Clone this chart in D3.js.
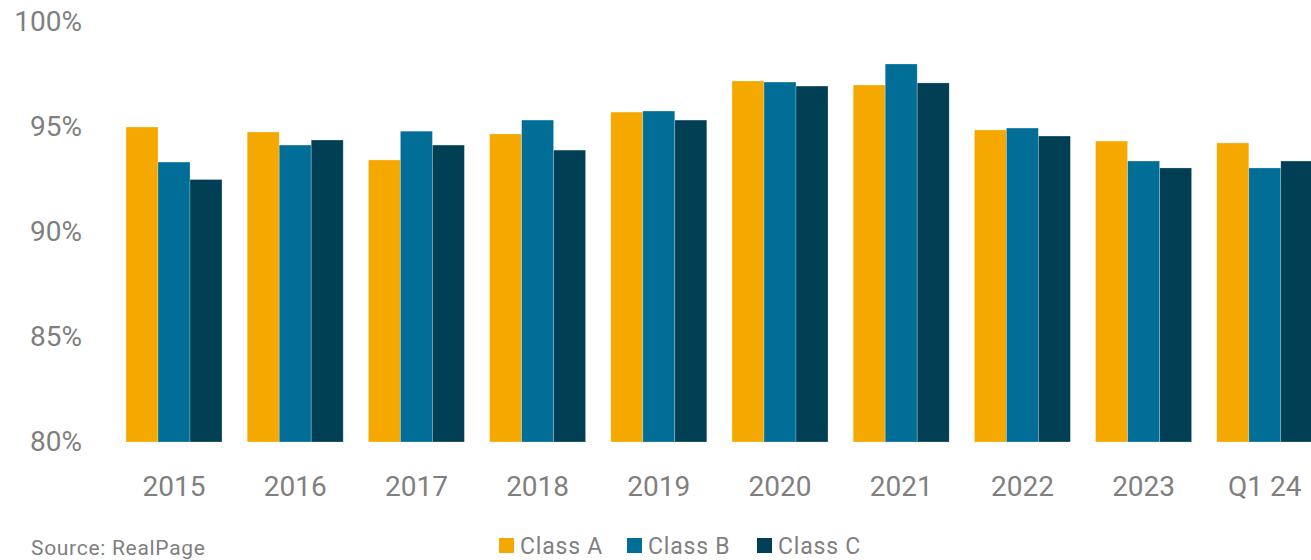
<!DOCTYPE html>
<html>
<head>
<meta charset="utf-8">
<script src="https://cdn.jsdelivr.net/npm/d3@7"></script>
<style>
  body { margin: 0; background: #fff; }
  text { font-family: Roboto, "DejaVu Sans", sans-serif; fill: #7f7f7f; }
</style>
</head>
<body>
<div id="chart"></div>
<script>
// Occupancy by class
const years = ["2015", "2016", "2017", "2018", "2019", "2020", "2021", "2022", "2023", "Q1 24"];
const seriesNames = ["Class A", "Class B", "Class C"];
const classA = [95.0, 94.76, 93.43, 94.67, 95.71, 97.19, 97.0, 94.86, 94.33, 94.24];
const classB = [93.33, 94.14, 94.8, 95.33, 95.76, 97.14, 98.0, 94.95, 93.38, 93.05];
const classC = [92.5, 94.38, 94.14, 93.9, 95.33, 96.95, 97.1, 94.57, 93.05, 93.38];
const yTicks = [80, 85, 90, 95, 100];
const colors = ["#f5a800", "#006e96", "#003f54"];

const width = 1311, height = 560;

const svg = d3.select("#chart")
  .append("svg")
  .attr("width", width)
  .attr("height", height);

const x0 = d3.scaleBand().domain(years).range([113.4, 1325.4])
  .paddingInner(0.208).paddingOuter(0.104);
const x1 = d3.scaleBand().domain(seriesNames).range([0, x0.bandwidth()]);
const y = d3.scaleLinear().domain([80, 100]).range([442, 22]);

const rows = years.map((yr, i) => ({
  year: yr,
  vals: [classA[i], classB[i], classC[i]]
}));

// bars
const groups = svg.append("g")
  .selectAll("g")
  .data(rows)
  .join("g")
  .attr("transform", d => `translate(${x0(d.year)},0)`);

groups.selectAll("rect")
  .data(d => d.vals.map((v, j) => ({ name: seriesNames[j], v: v, j: j })))
  .join("rect")
  .attr("x", d => x1(d.name))
  .attr("y", d => y(d.v))
  .attr("width", x1.bandwidth())
  .attr("height", d => y(80) - y(d.v))
  .attr("fill", d => colors[d.j])
  .attr("stroke", "rgba(255,255,255,0.35)")
  .attr("stroke-width", 0.7);

// y axis
const yAxis = svg.append("g")
  .attr("transform", "translate(82,0)")
  .call(d3.axisLeft(y).tickValues(yTicks).tickSize(0).tickPadding(0)
    .tickFormat(d => d + "%"));
yAxis.select(".domain").remove();
yAxis.selectAll("text")
  .attr("font-size", 28)
  .attr("fill", "#7f7f7f")
  .attr("font-family", "Roboto, sans-serif");

// x axis
const xAxis = svg.append("g")
  .attr("transform", "translate(0,476)")
  .call(d3.axisBottom(x0).tickSize(0).tickPadding(0));
xAxis.select(".domain").remove();
xAxis.selectAll("text")
  .attr("font-size", 28)
  .attr("dy", "0.71em")
  .attr("fill", "#7f7f7f")
  .attr("font-family", "Roboto, sans-serif");

// source
svg.append("text")
  .attr("x", 31)
  .attr("y", 555)
  .attr("font-size", 21)
  .attr("letter-spacing", 0.7)
  .text("Source: RealPage");

// legend
const legendX = [499, 627, 757];
const legend = svg.append("g")
  .selectAll("g")
  .data(seriesNames)
  .join("g")
  .attr("transform", (d, i) => `translate(${legendX[i]},538)`);

legend.append("rect")
  .attr("width", 15)
  .attr("height", 15)
  .attr("fill", (d, i) => colors[i]);

legend.append("text")
  .attr("x", 21)
  .attr("y", 16)
  .attr("font-size", 23)
  .attr("letter-spacing", 0.8)
  .text(d => d);
</script>
</body>
</html>
